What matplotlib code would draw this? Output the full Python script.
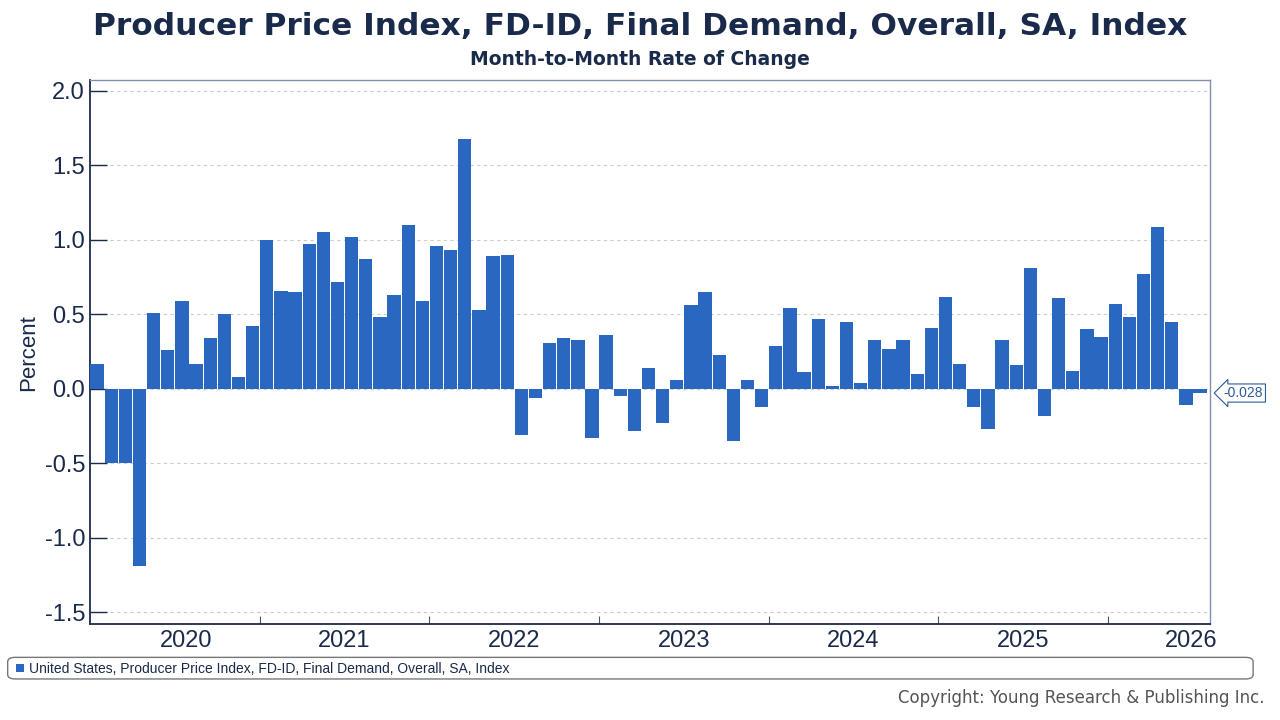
import numpy as np
import matplotlib
matplotlib.use('Agg')
from matplotlib import pyplot as plt
from matplotlib.patches import FancyBboxPatch

# monthly rate of change, percent
values = [0.17, -0.50, -0.50, -1.19, 0.51, 0.26, 0.59, 0.17, 0.34, 0.50, 0.08, 0.42,
          1.00, 0.66, 0.65, 0.97, 1.05, 0.72, 1.02, 0.87, 0.48, 0.63, 1.10, 0.59,
          0.96, 0.93, 1.68, 0.53, 0.89, 0.90, -0.31, -0.06, 0.31, 0.34, 0.33, -0.33,
          0.36, -0.05, -0.28, 0.14, -0.23, 0.06, 0.56, 0.65, 0.23, -0.35, 0.06, -0.12,
          0.29, 0.54, 0.11, 0.47, 0.02, 0.45, 0.04, 0.33, 0.27, 0.33, 0.10, 0.41,
          0.62, 0.17, -0.12, -0.27, 0.33, 0.16, 0.81, -0.18, 0.61, 0.12, 0.40, 0.35,
          0.57, 0.48, 0.77, 1.09, 0.45, -0.11, -0.028]
year_labels = ['2020', '2021', '2022', '2023', '2024', '2025', '2026']
year_label_pos = [6.3, 17.5, 29.5, 41.5, 53.5, 65.5, 77.4]
year_bounds = [11.5, 23.5, 35.5, 47.5, 59.5, 71.5]

plt.rcParams['font.family'] = ['Liberation Sans', 'DejaVu Sans']
navy = '#1a2a4a'
blue = '#2a67c0'

fig = plt.figure(figsize=(12.8, 7.2), dpi=100)
ax = fig.add_axes([0.0703, 0.133, 0.8750, 0.756])

x = np.arange(len(values))
ax.bar(x, values, width=0.94, color=blue, zorder=3)
ax.set_xlim(-0.5, len(values) - 0.3)
ax.set_ylim(-1.58, 2.074)
ax.set_yticks([-1.5, -1.0, -0.5, 0.0, 0.5, 1.0, 1.5, 2.0])
ax.set_yticklabels(['-1.5', '-1.0', '-0.5', '0.0', '0.5', '1.0', '1.5', '2.0'])
ax.grid(axis='y', color='#cccccc', linestyle=(0, (3, 3)), linewidth=0.8, zorder=0)
ax.tick_params(axis='y', labelsize=17, colors=navy, direction='in', length=12, width=1)
ax.set_xticks(year_bounds)
ax.set_xticklabels([])
ax.tick_params(axis='x', direction='in', length=6, color='#555555')
ax.set_xticks(year_label_pos, minor=True)
ax.set_xticklabels(year_labels, minor=True)
ax.tick_params(axis='x', which='minor', length=0, labelsize=17, colors=navy, pad=4)
ax.set_ylabel('Percent', fontsize=16, color=navy, labelpad=4)

for s in ['left', 'bottom']:
    ax.spines[s].set_color(navy)
    ax.spines[s].set_linewidth(1.3)
for s in ['top', 'right']:
    ax.spines[s].set_color('#8090a8')
    ax.spines[s].set_linewidth(1)

# last-value tag
ax.annotate('%.3f' % values[-1], xy=(len(values) - 0.3, values[-1]), xycoords='data',
            xytext=(10, 0), textcoords='offset points', va='center', ha='left',
            fontsize=10, color='#2a5a9a', annotation_clip=False,
            bbox=dict(boxstyle='larrow,pad=0.15', fc='white', ec='#2a5a9a', lw=0.8))

fig.text(0.5, 0.963, 'Producer Price Index, FD-ID, Final Demand, Overall, SA, Index',
         ha='center', va='center', fontsize=22.5, fontweight='bold', color=navy,
         family='DejaVu Sans')
fig.text(0.5, 0.918, 'Month-to-Month Rate of Change', ha='center', va='center',
         fontsize=13.5, fontweight='bold', color=navy, family='DejaVu Sans')

# legend box
fig.patches.append(FancyBboxPatch((0.006, 0.057), 0.973, 0.030, transform=fig.transFigure,
                                  boxstyle='round,pad=0,rounding_size=0.006',
                                  fc='white', ec='#777777', lw=1))
fig.patches.append(plt.Rectangle((0.0125, 0.066), 0.006, 0.012, transform=fig.transFigure,
                                 fc=blue, ec='none'))
fig.text(0.023, 0.071, 'United States, Producer Price Index, FD-ID, Final Demand, Overall, SA, Index',
         ha='left', va='center', fontsize=10, color=navy)
fig.text(0.988, 0.030, 'Copyright: Young Research & Publishing Inc.', ha='right', va='center',
         fontsize=12, color='#555555', family='DejaVu Sans')

fig.savefig('out.png', dpi=100)
